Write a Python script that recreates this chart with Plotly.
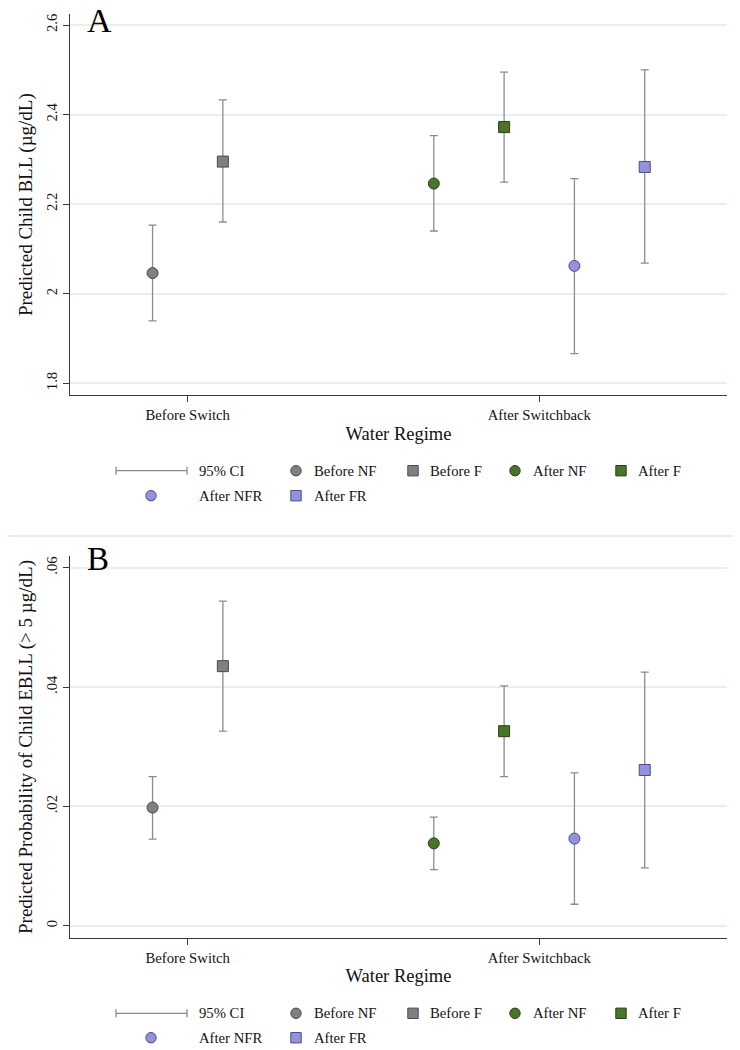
import plotly.graph_objects as go

# ---------------- data ----------------
series = ["Before NF", "Before F", "After NF", "After F", "After NFR", "After FR"]
regime_pos = [1, 1, 2, 2, 2, 2]          # 1 = Before Switch, 2 = After Switchback
offsets = [-0.1, 0.1, -0.3, -0.1, 0.1, 0.3]
symbols = ["circle", "square", "circle", "square", "circle", "square"]
fills = ["#808080", "#808080", "#4B7329", "#4B7329", "#9292DE", "#9292DE"]
edges = ["#4a4a4a", "#4a4a4a", "#2b4015", "#2b4015", "#4b4b85", "#4b4b85"]

a_mean = [2.046, 2.295, 2.246, 2.372, 2.062, 2.283]
a_lo = [1.939, 2.160, 2.140, 2.249, 1.866, 2.068]
a_hi = [2.153, 2.433, 2.353, 2.495, 2.257, 2.500]

b_mean = [0.0198, 0.0435, 0.0138, 0.0326, 0.0146, 0.0261]
b_lo = [0.0145, 0.0326, 0.0094, 0.0250, 0.0036, 0.0097]
b_hi = [0.0250, 0.0544, 0.0182, 0.0402, 0.0256, 0.0425]

x_ticks = [1, 2]
x_ticklabels = ["Before Switch", "After Switchback"]
a_ticks = [1.8, 2.0, 2.2, 2.4, 2.6]
a_ticklabels = ["1.8", "2", "2.2", "2.4", "2.6"]
b_ticks = [0, 0.02, 0.04, 0.06]
b_ticklabels = ["0", ".02", ".04", ".06"]

W, H = 740, 1050
FONT = "Liberation Serif"
GRID = "#E6F0F0"
ERR = "#8C8C8C"
AXC = "#3a3a3a"
SMALL = 14.7

def px(x):
    return x / W

def py(y):
    return 1 - y / H

fig = go.Figure()

for panel, (mean, lo, hi) in enumerate([(a_mean, a_lo, a_hi), (b_mean, b_lo, b_hi)]):
    xa = "x" if panel == 0 else "x2"
    ya = "y" if panel == 0 else "y2"
    for i, name in enumerate(series):
        fig.add_trace(go.Scatter(
            x=[regime_pos[i] + offsets[i]], y=[mean[i]],
            mode="markers",
            marker=dict(symbol=symbols[i], size=11, color=fills[i],
                        line=dict(color=edges[i], width=1)),
            error_y=dict(type="data", symmetric=False,
                         array=[hi[i] - mean[i]], arrayminus=[mean[i] - lo[i]],
                         color=ERR, thickness=1.3, width=4),
            name=name, showlegend=False, xaxis=xa, yaxis=ya,
        ))

xr = [0.6652, 2.534]
common_x = dict(range=xr, tickvals=x_ticks, ticktext=x_ticklabels,
                showgrid=False, zeroline=False, showline=True, linecolor=AXC,
                linewidth=1.3, ticks="outside", ticklen=6, tickcolor=AXC,
                tickfont=dict(family=FONT, size=SMALL, color="#111"),
                title=dict(text="Water Regime", font=dict(family=FONT, size=18.5, color="#111"),
                           standoff=4))
common_y = dict(showgrid=True, gridcolor=GRID, gridwidth=1.5, zeroline=False,
                showline=True, linecolor=AXC, linewidth=1.3, ticks="outside",
                ticklen=6, tickcolor=AXC, tickangle=-90,
                tickfont=dict(family=FONT, size=SMALL, color="#111"))

fig.update_layout(
    width=W, height=H,
    margin=dict(l=0, r=0, t=0, b=0),
    paper_bgcolor="white", plot_bgcolor="white",
    showlegend=False,
    xaxis=dict(domain=[px(70), px(727)], anchor="y", **common_x),
    yaxis=dict(domain=[py(395.3), py(14)], anchor="x", range=[1.773, 2.6246],
               tickvals=a_ticks, ticktext=a_ticklabels,
               title=dict(text="Predicted Child BLL (µg/dL)",
                          font=dict(family=FONT, size=19, color="#111"), standoff=6),
               **common_y),
    xaxis2=dict(domain=[px(70), px(727)], anchor="y2", **common_x),
    yaxis2=dict(domain=[py(938), py(556)], anchor="x2", range=[-0.00206, 0.06196],
                tickvals=b_ticks, ticktext=b_ticklabels,
                title=dict(text="Predicted Probability of Child EBLL (> 5 µg/dL)",
                           font=dict(family=FONT, size=19, color="#111"), standoff=6),
                **common_y),
)

shapes = []
annotations = []

# separator line between panels
shapes.append(dict(type="line", xref="paper", yref="paper",
                   x0=px(8), x1=px(733), y0=py(536), y1=py(536),
                   line=dict(color=GRID, width=2)))

# panel letters
annotations.append(dict(text="A", x=px(85), y=py(0), xref="paper", yref="paper",
                        xanchor="left", yanchor="top", showarrow=False,
                        font=dict(family=FONT, size=34, color="#000")))
annotations.append(dict(text="B", x=px(85), y=py(539), xref="paper", yref="paper",
                        xanchor="left", yanchor="top", showarrow=False,
                        font=dict(family=FONT, size=33, color="#000")))

# manual legends
def add_legend(row1, row2):
    # CI key
    shapes.append(dict(type="line", xref="paper", yref="paper",
                       x0=px(116), x1=px(187), y0=py(row1), y1=py(row1),
                       line=dict(color=ERR, width=1.3)))
    for xx in (116, 187):
        shapes.append(dict(type="line", xref="paper", yref="paper",
                           x0=px(xx), x1=px(xx), y0=py(row1 - 4), y1=py(row1 + 4),
                           line=dict(color=ERR, width=1.3)))
    annotations.append(dict(text="95% CI", x=px(197), y=py(row1), xref="paper", yref="paper",
                            xanchor="left", yanchor="middle", showarrow=False,
                            font=dict(family=FONT, size=SMALL, color="#111")))
    items = [(0, 296, 312, row1), (1, 413, 428, row1), (2, 515, 531, row1),
             (3, 621, 636, row1), (4, 151, 197, row2), (5, 296, 312, row2)]
    for idx, mx, tx, ry in items:
        r = 5.2
        shp = "circle" if symbols[idx] == "circle" else "rect"
        shapes.append(dict(type=shp, xref="paper", yref="paper",
                           x0=px(mx - r), x1=px(mx + r), y0=py(ry + r), y1=py(ry - r),
                           fillcolor=fills[idx], line=dict(color=edges[idx], width=1)))
        annotations.append(dict(text=series[idx], x=px(tx), y=py(ry), xref="paper", yref="paper",
                                xanchor="left", yanchor="middle", showarrow=False,
                                font=dict(family=FONT, size=SMALL, color="#111")))

add_legend(470.7, 495.7)
add_legend(1013.3, 1037.7)

fig.update_layout(shapes=shapes, annotations=annotations)
fig.write_html("out.html", config={"displayModeBar": False},
               post_script="document.body.style.margin='0';document.body.style.overflow='hidden';")
